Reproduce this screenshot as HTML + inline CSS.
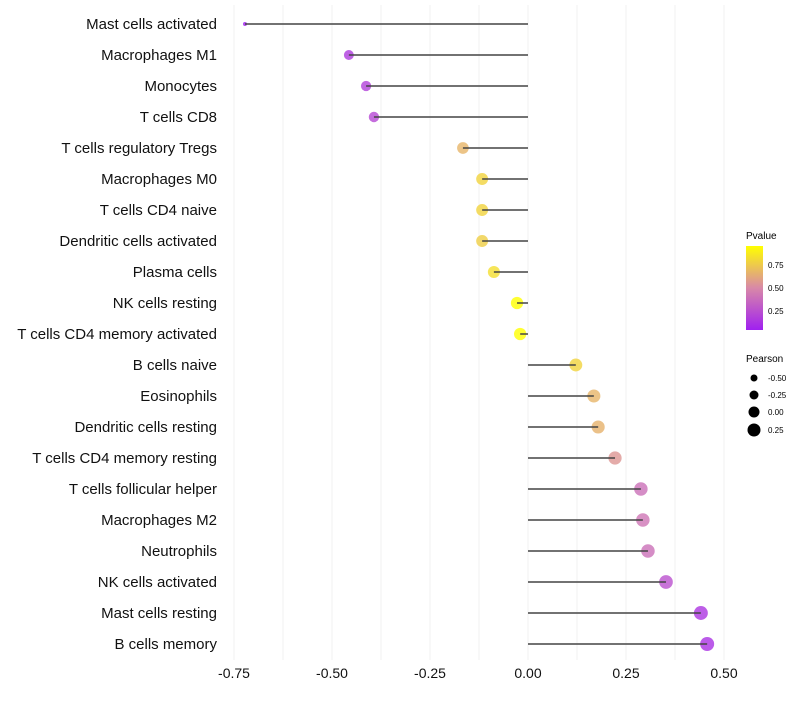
<!DOCTYPE html>
<html><head><meta charset="utf-8"><style>
body{margin:0;background:#fff;font-family:"Liberation Sans",sans-serif}
svg text{font-family:"Liberation Sans",sans-serif}
</style></head><body>
<svg id="c" width="800" height="700">
<defs><linearGradient id="g" x1="0" y1="1" x2="0" y2="0">
<stop offset="0" stop-color="#a020f0"/><stop offset="0.5" stop-color="#d888a8"/><stop offset="1" stop-color="#ffff00"/></linearGradient></defs>
<g id="grid"></g><g id="pts"></g><g id="segs"></g><g id="labels"></g><g id="ticks"></g>
<g>
<text x="746" y="239" font-size="10">Pvalue</text>
<rect x="746" y="246" width="17" height="84" fill="url(#g)"/>
<text x="768" y="268" font-size="8">0.75</text>
<text x="768" y="291" font-size="8">0.50</text>
<text x="768" y="314" font-size="8">0.25</text>
</g>
<g>
<text x="746" y="362" font-size="10">Pearson</text>
<circle cx="754" cy="378" r="3.5"/><text x="768" y="381" font-size="8">-0.50</text>
<circle cx="754" cy="395" r="4.5"/><text x="768" y="398" font-size="8">-0.25</text>
<circle cx="754" cy="412" r="5.5"/><text x="768" y="415" font-size="8">0.00</text>
<circle cx="754" cy="430" r="6.5"/><text x="768" y="433" font-size="8">0.25</text>
</g>
</svg>
<script>
const cells=["Mast cells activated","Macrophages M1","Monocytes","T cells CD8","T cells regulatory  Tregs ","Macrophages M0","T cells CD4 naive","Dendritic cells activated","Plasma cells","NK cells resting","T cells CD4 memory activated","B cells naive","Eosinophils","Dendritic cells resting","T cells CD4 memory resting","T cells follicular helper","Macrophages M2","Neutrophils","NK cells activated","Mast cells resting","B cells memory"];
const pearson=[-0.722,-0.457,-0.413,-0.393,-0.166,-0.117,-0.117,-0.117,-0.087,-0.028,-0.020,0.122,0.168,0.179,0.222,0.288,0.293,0.306,0.352,0.441,0.457];
const pvalue=[0.0,0.12,0.15,0.18,0.64,0.76,0.76,0.74,0.8,0.93,0.93,0.76,0.64,0.63,0.52,0.36,0.38,0.36,0.22,0.1,0.08];
const tickVals=[-0.75,-0.5,-0.25,0,0.25,0.5];
const tickLabels=["-0.75","-0.50","-0.25","0.00","0.25","0.50"];
const NS="http://www.w3.org/2000/svg";
const X=v=>528+v*392;
const Y=i=>24+i*31;
const R=v=>2+5*Math.pow(Math.max(0,(v+0.722)/1.179),0.35);
function col(p){p=Math.min(1,p/0.93);let a,b,t;
 if(p<0.5){a=[160,32,240];b=[216,136,168];t=p/0.5}else{a=[216,136,168];b=[255,255,0];t=(p-0.5)/0.5}
 return `rgb(${a.map((x,k)=>Math.round(x+(b[k]-x)*t)).join(",")})`;}
function mk(tag,attrs,parent){const e=document.createElementNS(NS,tag);for(const k in attrs)e.setAttribute(k,attrs[k]);document.getElementById(parent).appendChild(e);return e;}
for(let v=-0.75;v<=0.5001;v+=0.125){
 const l=mk("line",{x1:X(v),x2:X(v),y1:5,y2:660,stroke:"#f2f2f2","stroke-width":1},"grid");
 
 
}
cells.forEach((c,i)=>{
 const pt=mk("circle",{cx:X(pearson[i]),cy:Y(i),r:R(pearson[i]),fill:col(pvalue[i]),"fill-opacity":0.8},"pts");
 
 
 const s=mk("line",{x1:X(0),x2:X(pearson[i]),y1:Y(i),y2:Y(i),stroke:"#444","stroke-width":1.5},"segs");
 
 
 const t=mk("text",{x:217,y:Y(i)+5,"text-anchor":"end","font-size":15,fill:"#111"},"labels");
 t.textContent=c;
 
 
});
tickVals.forEach((v,i)=>{
 const t=mk("text",{x:X(v),y:678,"text-anchor":"middle","font-size":14,fill:"#111"},"ticks");
 t.textContent=tickLabels[i];
 
 
});
</script>
</body></html>
